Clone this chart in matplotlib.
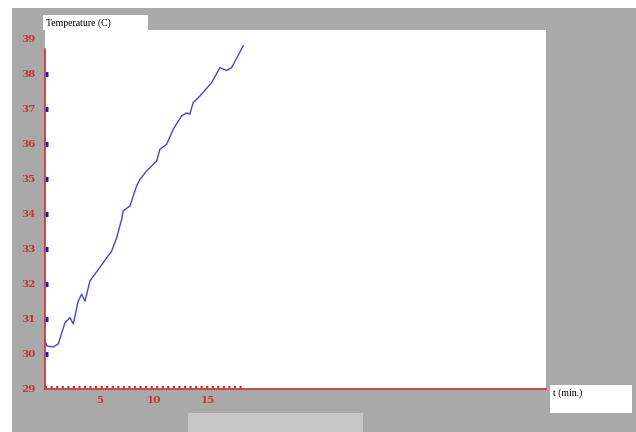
import matplotlib
matplotlib.use("Agg")
import matplotlib.pyplot as plt
from matplotlib.patches import Rectangle

# temperature log
minutes = [0.0, 0.16, 0.76, 1.22, 1.83, 2.29, 2.6, 3.05, 3.37, 3.67, 4.13,
           5.35, 6.12, 6.58, 7.04, 7.18, 7.8, 8.41, 8.72, 9.33, 10.25,
           10.55, 11.17, 11.77, 12.54, 13.0, 13.3, 13.6, 14.22, 15.29,
           16.06, 16.67, 17.13, 18.19]
temps = [30.37, 30.23, 30.2, 30.29, 30.89, 31.04, 30.86, 31.51, 31.71, 31.51,
         32.09, 32.61, 32.94, 33.32, 33.85, 34.09, 34.23, 34.8, 34.99, 35.23,
         35.51, 35.85, 35.99, 36.42, 36.8, 36.89, 36.85, 37.18, 37.37, 37.75,
         38.18, 38.1, 38.18, 38.8]
y_ticks = list(range(29, 40))
x_ticks = [5, 10, 15]

W, H = 636, 432
fig = plt.figure(figsize=(W / 100, H / 100), dpi=100, facecolor="white")

def fx(px):
    return px / W

def fy(py):
    return 1 - py / H

red = "#c83232"
gray = "#a9a9a9"

# gray panel behind everything
fig.patches.append(Rectangle((fx(12), 0), 1 - fx(12), fy(8), transform=fig.transFigure,
                             facecolor=gray, edgecolor="none", zorder=0))
fig.patches.append(Rectangle((fx(188), 0), fx(363) - fx(188), fy(413), transform=fig.transFigure,
                             facecolor="#c6c6c6", edgecolor="none", zorder=0))

ax = fig.add_axes([fx(45), fy(389), fx(546) - fx(45), fy(30) - fy(389)])
ax.set_zorder(2)
ax.set_facecolor("white")
ax.set_xlim(0, 46)
ax.set_ylim(29, 39 + 9 / 35.1)

ax.plot(minutes, temps, color="#4545d8", lw=1.0)
# dotted red row just above the time axis, over the logged span
ax.hlines(29.05, 0, minutes[-1] + 0.1, colors=red, lw=1.6, linestyles=(0, (1, 1.5)), zorder=3)

for s in ["top", "right"]:
    ax.spines[s].set_visible(False)
ax.spines["left"].set_color(red)
ax.spines["bottom"].set_color(red)
ax.spines["left"].set_linewidth(1.2)
ax.spines["bottom"].set_linewidth(1.2)
ax.spines["left"].set_bounds(29, 38.7)

tick_font = dict(family="DejaVu Serif", weight="bold", size=7.5)
ax.set_yticks(y_ticks)
ax.set_yticklabels([str(v) for v in y_ticks], color=red, fontdict=tick_font)
ax.tick_params(axis="y", which="major", direction="in", length=2, width=3.5,
               color="#1414c8", pad=7)
# no blue mark at the two ends
for t in (ax.yaxis.get_major_ticks()[0], ax.yaxis.get_major_ticks()[-1]):
    t.tick1line.set_visible(False)
ax.set_xticks(x_ticks)
ax.set_xticklabels([str(v) for v in x_ticks], color=red, fontdict=tick_font)
ax.tick_params(axis="x", which="major", length=0, pad=5)

# axis name boxes
fig.patches.append(Rectangle((fx(43), fy(30)), fx(148) - fx(43), fy(15) - fy(30),
                             transform=fig.transFigure, facecolor="white", edgecolor="none", zorder=1))
fig.text(fx(46), fy(23), "Temperature (C)", fontsize=7, family="Liberation Serif",
         va="center", ha="left")
fig.patches.append(Rectangle((fx(550), fy(413)), fx(632) - fx(550), fy(385) - fy(413),
                             transform=fig.transFigure, facecolor="white", edgecolor="none", zorder=1))
fig.text(fx(553), fy(393), "t (min.)", fontsize=7, family="Liberation Serif",
         va="center", ha="left")

fig.savefig("out.png", dpi=100, facecolor=fig.get_facecolor())
